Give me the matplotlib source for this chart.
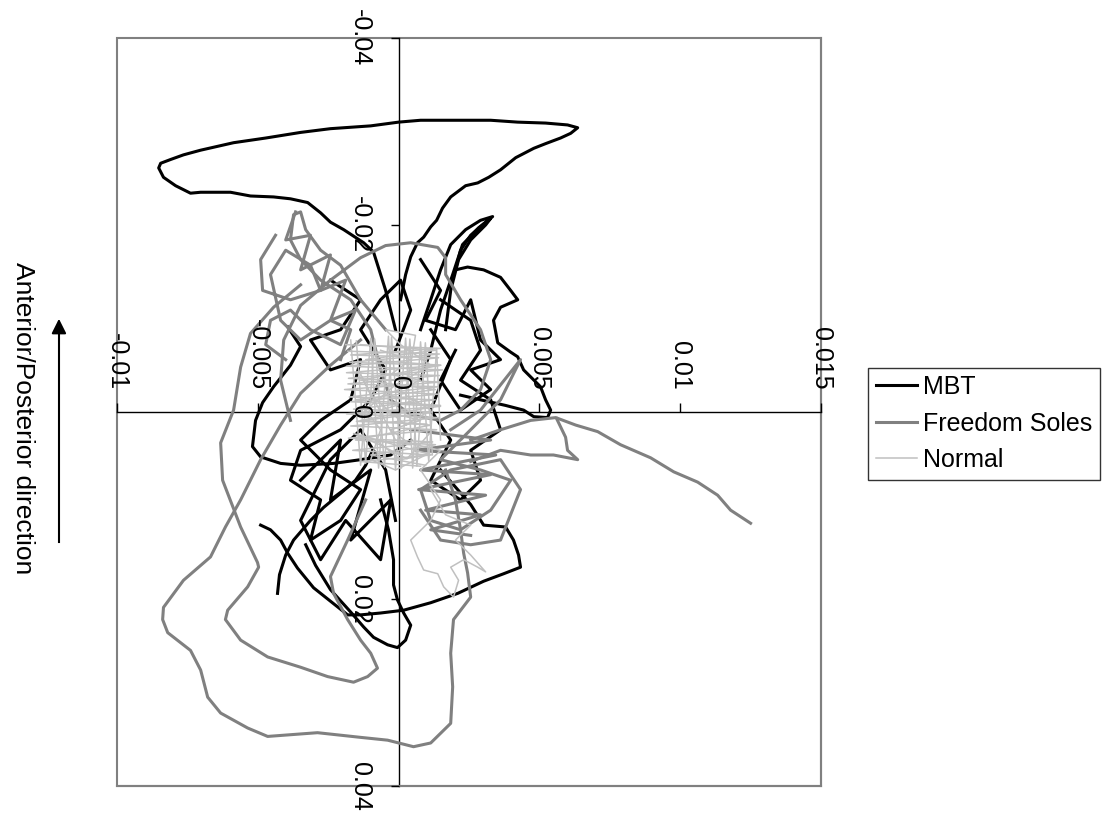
"""
Centre-of-pressure paths for three footwear conditions (MBT, Freedom Soles, Normal).
The original chart is turned on its side, so the traces are drawn with y inverted
and all text rotated 270 degrees.
"""

import matplotlib.pyplot as plt
from matplotlib.patches import Rectangle

# axis ticks (metres)
x_ticks = [-0.01, -0.005, 0, 0.005, 0.01, 0.015]
x_tick_labels = ["-0.01", "-0.005", "0", "0.005", "0.01", "0.015"]
y_ticks = [-0.04, -0.02, 0, 0.02, 0.04]
y_tick_labels = ["-0.04", "-0.02", "0", "0.02", "0.04"]

# --- MBT traces (mm) ---
mbt_1_x = [-0.11, -0.46, -0.89, -1.24, -1.95, -2.42, -2.77, -3.23, -3.84, -4.44, -5.26, -5.97,
           -6.43, -7.03, -7.39, -7.92, -8.35, -8.52, -8.45, -8.10, -7.64, -7.03, -5.86, -4.72,
           -3.48, -2.42, -0.99, 0.0, 0.78, 1.85, 3.27, 4.23, 5.22, 6.00, 6.36, 6.11, 5.75, 5.22,
           4.80, 4.16, 3.62, 3.20, 2.81, 2.38, 1.85, 1.56, 1.35, 1.14, 0.89, 0.67, 0.43, 0.25, 0.07]
mbt_1_y = [-8.8, -13.0, -17.1, -18.1, -19.5, -20.3, -21.3, -22.4, -22.8, -23.0, -23.1, -23.5,
           -23.5, -23.5, -23.4, -24.2, -25.1, -26.1, -26.6, -27.0, -27.5, -28.0, -28.8, -29.3,
           -29.9, -30.3, -30.6, -31.0, -31.2, -31.2, -31.2, -31.0, -30.9, -30.7, -30.4, -29.8,
           -29.3, -28.7, -28.2, -27.2, -25.9, -25.1, -24.5, -24.2, -23.0, -21.8, -20.5, -19.8,
           -18.7, -18.1, -16.6, -14.7, -12.0]
mbt_2_x = [0.78, 1.14, 1.49, 1.85, 2.38, 2.91, 3.34, 3.09, 2.56, 2.20, 2.02, 2.45, 3.02, 3.62,
           3.98, 4.23, 3.62, 3.37, 3.52, 3.98, 4.23, 4.44, 5.04, 5.22, 5.40, 5.29, 4.80, 4.44,
           3.80, 2.91, 2.20]
mbt_2_y = [-8.8, -12.0, -15.2, -17.9, -19.5, -20.5, -20.9, -20.3, -18.9, -17.3, -15.2, -15.5,
           -15.2, -14.4, -13.0, -12.0, -11.2, -9.8, -7.4, -6.4, -5.9, -4.5, -2.7, -1.3, -0.2,
           0.6, 0.5, -0.2, -0.7, -1.3, -1.8]
mbt_3_x = [1.67, 1.85, 2.13, 2.56, 3.09, 3.27, 2.84, 2.27, 1.92, 1.49, 1.14, 0.78]
mbt_3_y = [-8.8, -13.0, -16.3, -18.4, -20.0, -20.7, -19.7, -17.9, -14.7, -10.9, -6.6, -3.4]
mbt_4_x = [-3.94, -3.48, -3.84, -4.44, -4.83, -5.08, -5.19, -4.90, -4.19, -3.48, -2.31, -1.35,
           -0.28, 0.43]
mbt_4_y = [-9.1, -7.0, -5.0, -2.7, -1.0, 0.9, 3.7, 4.8, 5.5, 5.7, 5.5, 5.1, 4.6, 3.0]
mbt_5_x = [-4.30, -4.23, -4.01, -3.73, -3.13, -2.66, -2.06, -1.53, -1.17, -0.92]
mbt_5_y = [19.4, 17.4, 15.3, 13.7, 11.6, 10.2, 8.7, 7.3, 5.7, 4.1]
mbt_6_x = [1.49, 2.56, 3.02, 3.80, 4.08, 4.26, 4.33, 3.73, 3.02, 2.10, 1.14, 0.18, -0.64, -1.35,
           -1.81, -2.31, -3.02, -3.59, -3.94, -4.19, -4.55, -4.90]
mbt_6_y = [6.2, 9.9, 12.1, 12.3, 13.7, 15.3, 16.6, 17.3, 18.1, 19.4, 20.4, 21.2, 21.5, 21.7,
           21.7, 20.5, 18.8, 16.7, 15.1, 13.7, 12.6, 12.1]
mbt_7_x = [-0.64, -0.36, -0.18, -0.18, -0.04, 0.18, 0.43, 0.25, -0.04, -0.39, -0.89, -1.24,
           -1.70, -2.42, -2.95, -3.30]
mbt_7_y = [9.4, 12.6, 15.8, 18.5, 20.1, 21.5, 22.8, 24.4, 25.2, 24.9, 24.1, 23.0, 21.4, 19.0,
           16.4, 14.2]
mbt_8_x = [-2.42, -1.35, -2.06, -3.13, -2.42, -1.35, -1.70, -2.77, -3.48, -2.42, -1.35, -2.06,
           -3.13, -2.77, -3.84, -3.48, -2.06, -0.99, -0.46, -1.35, -0.64, 0.07, 0.43, -0.11]
mbt_8_y = [-14.1, -12.0, -8.8, -7.7, -4.5, -5.6, -1.3, 0.9, 3.0, 6.2, 8.3, 11.6, 13.7, 9.4, 7.3,
           4.1, 1.9, -1.3, -4.5, -8.8, -12.0, -14.1, -10.9, -6.6]
mbt_9_x = [1.49, 2.56, 2.91, 2.20, 3.27, 3.62, 2.56, 2.91, 2.20, 1.14, 1.85, 1.14, 1.85, 1.14]
mbt_9_y = [-12.0, -9.8, -6.6, -3.4, -1.3, 1.9, 4.1, 7.3, 9.4, 7.3, 3.0, -0.2, -5.6, -8.8]
mbt_10_x = [-3.48, -2.06, -2.42, -0.99, -1.70, -0.28, -0.64, -1.88, -2.77, -3.48, -2.42, -1.35,
            -0.46, -0.11]
mbt_10_y = [7.3, 3.0, 9.4, 6.2, 13.7, 9.4, 15.8, 11.6, 15.8, 11.6, 5.1, 1.9, 6.2, 11.6]
mbt_11_x = [0.78, 1.49, 0.96, 2.02, 2.56, 2.91, 3.62, 2.56, 3.27, 2.20, 1.49, 2.02]
mbt_11_y = [-16.3, -13.0, -9.8, -8.8, -12.0, -7.7, -5.6, -4.5, -2.4, -0.2, -3.4, -6.6]

# --- Freedom Soles traces (mm) ---
fs_1_x = [-1.35, -2.42, -3.48, -4.19, -4.90, -5.61, -6.15, -6.68, -7.64, -8.35, -8.38, -8.20,
          -7.39, -7.03, -6.78, -6.32, -5.36, -4.65, -2.88, -1.35, -0.39, 0.53, 1.14, 1.85, 1.92,
          1.85, 1.95, 2.56, 2.45, 2.31, 2.20, 2.02, 1.67]
fs_1_y = [-7.7, -5.0, -2.0, 1.4, 5.1, 9.4, 12.3, 15.5, 18.0, 20.9, 22.2, 23.6, 25.5, 27.6, 30.5,
          32.2, 33.8, 34.7, 34.3, 34.8, 35.1, 35.8, 35.4, 33.3, 29.4, 25.8, 22.2, 19.8, 17.2,
          15.1, 12.6, 9.4, 6.2]
fs_2_x = [-3.48, -4.44, -5.26, -5.61, -5.86, -6.32, -6.25, -5.61, -5.01, -4.97, -5.36, -6.07,
          -6.15, -5.61, -4.65, -3.48, -2.52, -1.60, -1.10, -0.75, -0.99, -1.35, -1.81, -2.31,
          -2.42, -1.81, -1.60, -1.17]
fs_2_y = [-13.6, -11.2, -8.4, -4.8, -0.2, 3.3, 7.3, 12.3, 16.1, 16.6, 18.7, 21.2, 22.2, 24.4,
          26.2, 27.3, 28.3, 28.9, 28.3, 27.4, 25.8, 24.4, 22.2, 19.4, 17.6, 13.7, 12.3, 9.4]
fs_3_x = [2.56, 3.62, 4.69, 5.58, 6.29, 7.07, 7.88, 8.95, 9.77, 10.62, 11.33, 11.79, 12.50]
fs_3_y = [3.0, 1.9, 0.9, 0.6, 1.4, 2.1, 3.5, 4.9, 6.4, 7.5, 8.9, 10.5, 11.9]
fs_4_x = [5.61, 5.93, 6.00, 6.36, 5.50, 4.69, 3.62, 2.56]
fs_4_y = [0.7, 2.7, 4.1, 5.1, 4.6, 4.6, 4.1, 5.3]
fs_5_x = [-3.84, -4.19, -4.08, -3.48, -2.42, -1.35, -0.46, 0.43, 1.39, 1.67, 1.67, 2.20, 2.91,
          3.27, 2.91, 2.20, 1.49, 0.43, -0.28, -0.64, -0.99, -1.70, -2.77, -3.48, -3.84, -3.73,
          -3.48, -3.30, -2.77, -2.06, -1.35, -0.46]
fs_5_y = [0.9, -3.4, -7.7, -11.4, -14.1, -16.5, -17.8, -18.1, -17.6, -16.5, -14.7, -12.0, -8.8,
          -5.6, -2.4, -0.2, 0.9, 0.3, -1.3, -4.5, -8.8, -12.0, -14.1, -16.3, -18.4, -21.1,
          -21.4, -19.5, -17.3, -15.7, -12.0, -8.8]
fs_6_x = [-4.37, -4.90, -4.83, -3.84, -2.77, -3.13, -4.01, -4.55, -4.19, -3.48, -2.42, -1.70,
          -2.06]
fs_6_y = [-18.9, -16.3, -13.0, -12.0, -13.0, -15.7, -17.3, -14.7, -9.8, -7.7, -9.8, -8.8, -5.6]
fs_7_x = [1.85, 2.91, 4.33, 3.62, 2.56, 1.49, 2.91, 3.98, 3.27, 2.20, 1.14, 0.78, 1.85, 3.62,
          4.33, 3.62, 2.56, 1.49, 0.78]
fs_7_y = [1.9, -0.2, -5.6, -1.3, 1.9, 5.1, 6.2, 7.3, 10.5, 12.6, 11.6, 8.3, 6.2, 5.1, 8.3, 13.7,
          14.2, 13.7, 10.5]
fs_8_x = [0.43, 3.27, 0.60, 3.45, 0.78, 3.27, 0.71, 3.09, 0.96, 2.91, 1.14, 2.56]
fs_8_y = [1.9, 3.0, 4.1, 4.6, 6.2, 6.7, 8.3, 8.9, 10.5, 11.0, 12.6, 13.2]
fs_9_x = [-3.66, -4.01, -3.13, -3.48, -2.42, -2.77, -1.88, -2.42, -1.53, -2.06, -3.13, -3.84,
          -4.55, -4.72, -4.01]
fs_9_y = [-21.4, -18.4, -18.9, -15.2, -16.8, -13.0, -14.1, -9.8, -10.9, -7.2, -8.8, -10.9,
          -9.8, -7.2, -5.6]

# --- Normal traces (mm) ---
nor_1_x = [-0.64, 0.43, -0.28, 0.78, -0.46, 0.60, -0.64, 0.78, -0.28, 0.43, -0.82, 0.07, 0.96,
           -0.11, -0.99, -0.64, -1.17, -0.11, 1.14, 0.07, -0.46, 0.60, 0.25, 1.14, 0.25, -0.99,
           -1.35, -0.11, 1.49, 0.78]
nor_1_y = [-6.6, -5.6, -4.0, -3.4, -1.8, -1.3, -0.2, 0.9, 1.9, 3.5, 3.0, 5.1, 4.6, 6.2, 5.1,
           1.9, -0.2, -2.9, -5.0, -7.2, -8.8, -8.2, -1.8, -0.2, 1.4, -1.8, -4.0, 3.0, 4.1, 6.2]
nor_2_x = [-1.35, 1.31, -1.17, 1.49, -1.35, 1.31, -1.53, 1.49, -1.35, 1.14, -1.53, 1.31, -0.99,
           0.96]
nor_2_y = [-7.2, -6.6, -5.6, -5.0, -3.4, -2.4, -1.3, -0.7, 0.9, 1.4, 3.0, 3.5, 4.6, 5.7]
nor_3_x = [0.78, 1.49, 1.14, 0.43, 0.67, 0.89, 1.39, 1.60, 1.95, 2.13, 1.85, 2.31, 2.81, 3.09,
           2.56, 2.02, 2.56, 1.67, 1.14]
nor_3_y = [6.2, 9.4, 11.6, 13.7, 15.5, 16.9, 17.3, 18.7, 19.8, 18.0, 16.6, 15.8, 16.6, 17.1,
           15.3, 13.7, 12.1, 11.0, 8.3]
nor_4_x = [-1.88, 1.49, -1.70, 1.42, -1.85, 1.56, -1.78, 1.49, -1.92, 1.39, -1.70, 1.49, -1.85,
           1.42, -1.70, 1.35, -1.78, 1.21, -1.63, 1.14, -1.35, 0.78]
nor_4_y = [-7.2, -6.8, -6.1, -5.8, -4.9, -4.5, -3.6, -3.2, -2.4, -1.9, -1.1, -0.6, 0.2, 0.6,
           1.5, 1.9, 2.8, 3.2, 4.1, 4.6, 5.3, 5.8]
nor_5_x = [-1.70, -1.35, -0.99, -0.71, -0.36, -0.11, 0.25, 0.50, 0.78, 1.07, 1.35, 1.49]
nor_5_y = [-7.7, 5.7, -7.9, 6.0, -8.1, 6.2, -7.9, 6.0, -7.5, 5.3, -6.8, 3.0]
nor_6_x = [-1.80, 1.45, -1.75, 1.50, -1.85, 1.45, -1.80, 1.40, -1.75, 1.30, -1.60, 1.20,
           -1.50, 1.00]
nor_6_y = [-6.5, -6.2, -5.3, -5.0, -4.2, -3.9, -3.0, -2.7, -1.6, -1.3, -0.3, 0.0, 1.0, 1.3]
nor_7_x = [-1.50, -1.17, -0.85, -0.50, -0.25, 0.10, 0.40, 0.65, 0.95, 1.20, -1.60, -0.60,
           0.30, 1.10]
nor_7_y = [-7.6, 5.5, -7.8, 5.9, -8.0, 6.0, -7.8, 5.8, -7.4, 4.6, 2.3, 3.6, 5.0, 2.3]

mbt_traces = [(mbt_1_x, mbt_1_y), (mbt_2_x, mbt_2_y), (mbt_3_x, mbt_3_y), (mbt_4_x, mbt_4_y),
              (mbt_5_x, mbt_5_y), (mbt_6_x, mbt_6_y), (mbt_7_x, mbt_7_y), (mbt_8_x, mbt_8_y),
              (mbt_9_x, mbt_9_y), (mbt_10_x, mbt_10_y), (mbt_11_x, mbt_11_y)]
fs_traces = [(fs_1_x, fs_1_y), (fs_2_x, fs_2_y), (fs_3_x, fs_3_y), (fs_4_x, fs_4_y),
             (fs_5_x, fs_5_y), (fs_6_x, fs_6_y), (fs_7_x, fs_7_y), (fs_8_x, fs_8_y),
             (fs_9_x, fs_9_y)]
normal_traces = [(nor_1_x, nor_1_y), (nor_2_x, nor_2_y), (nor_3_x, nor_3_y),
                 (nor_4_x, nor_4_y), (nor_5_x, nor_5_y), (nor_6_x, nor_6_y),
                 (nor_7_x, nor_7_y)]

plt.rcParams["font.family"] = ["Liberation Sans", "DejaVu Sans"]
plt.rcParams["axes.unicode_minus"] = False

fig = plt.figure(figsize=(11.06, 8.15), dpi=100)
ax = fig.add_axes([0.1058, 0.0356, 0.6365, 0.9178])

series = [
    ("MBT", mbt_traces, "black", 2.2, 3),
    ("Freedom Soles", fs_traces, "#808080", 2.2, 4),
    ("Normal", normal_traces, "#c0c0c0", 1.1, 5),
]
for name, traces, color, lw, z in series:
    for i, (xs, ys) in enumerate(traces):
        ax.plot([v / 1000 for v in xs], [v / 1000 for v in ys], color=color, lw=lw,
                zorder=z, label=name if i == 0 else None, solid_joinstyle="round")

ax.set_xlim(-0.01, 0.015)
ax.set_ylim(0.04, -0.04)

# axis lines crossing at zero, frame drawn separately
ax.spines["left"].set_position(("data", 0))
ax.spines["top"].set_position(("data", 0))
for s in ("left", "top"):
    ax.spines[s].set_color("black")
    ax.spines[s].set_linewidth(1.0)
for s in ("right", "bottom"):
    ax.spines[s].set_color("#808080")
    ax.spines[s].set_linewidth(1.5)
ax.add_patch(Rectangle((0, 0), 1, 1, transform=ax.transAxes, fill=False,
                       edgecolor="#808080", lw=1.5, zorder=1, clip_on=False))

ax.xaxis.set_ticks_position("top")
ax.yaxis.set_ticks_position("left")
ax.set_xticks(x_ticks)
ax.set_xticklabels(x_tick_labels)
ax.set_yticks(y_ticks)
ax.set_yticklabels(y_tick_labels)
ax.tick_params(axis="x", direction="out", length=6.5, width=1, pad=9.5,
               labelsize=18, labelrotation=270)
ax.tick_params(axis="y", direction="out", length=6, width=1, pad=13,
               labelsize=18, labelrotation=270)
for lbl in ax.get_yticklabels():
    lbl.set_va("center")
# tick labels sit on top of the traces, as in the source chart
ax.xaxis.set_zorder(6)
ax.yaxis.set_zorder(6)

# side label with arrow
fig.text(0.021, 0.487, "Anterior/Posterior direction", rotation=270,
         ha="center", va="center", fontsize=19)
fig.add_artist(plt.Line2D([0.0533, 0.0533], [1 - 542 / 815, 1 - 330 / 815],
                          color="black", lw=1.5))
ax.annotate("", xy=(0.0533, 1 - 316 / 815), xytext=(0.0533, 1 - 335 / 815),
            xycoords="figure fraction", textcoords="figure fraction",
            arrowprops=dict(arrowstyle="-|>", color="black", lw=1.5, mutation_scale=22))

leg = fig.legend(loc="upper left", bbox_to_anchor=(0.785, 0.549), fontsize=18,
                 frameon=True, fancybox=False, edgecolor="black", handlelength=1.65,
                 handletextpad=0.25, borderpad=0.3, labelspacing=0.5, borderaxespad=0)
leg.get_frame().set_linewidth(1.0)

fig.savefig("out.png", dpi=100)
